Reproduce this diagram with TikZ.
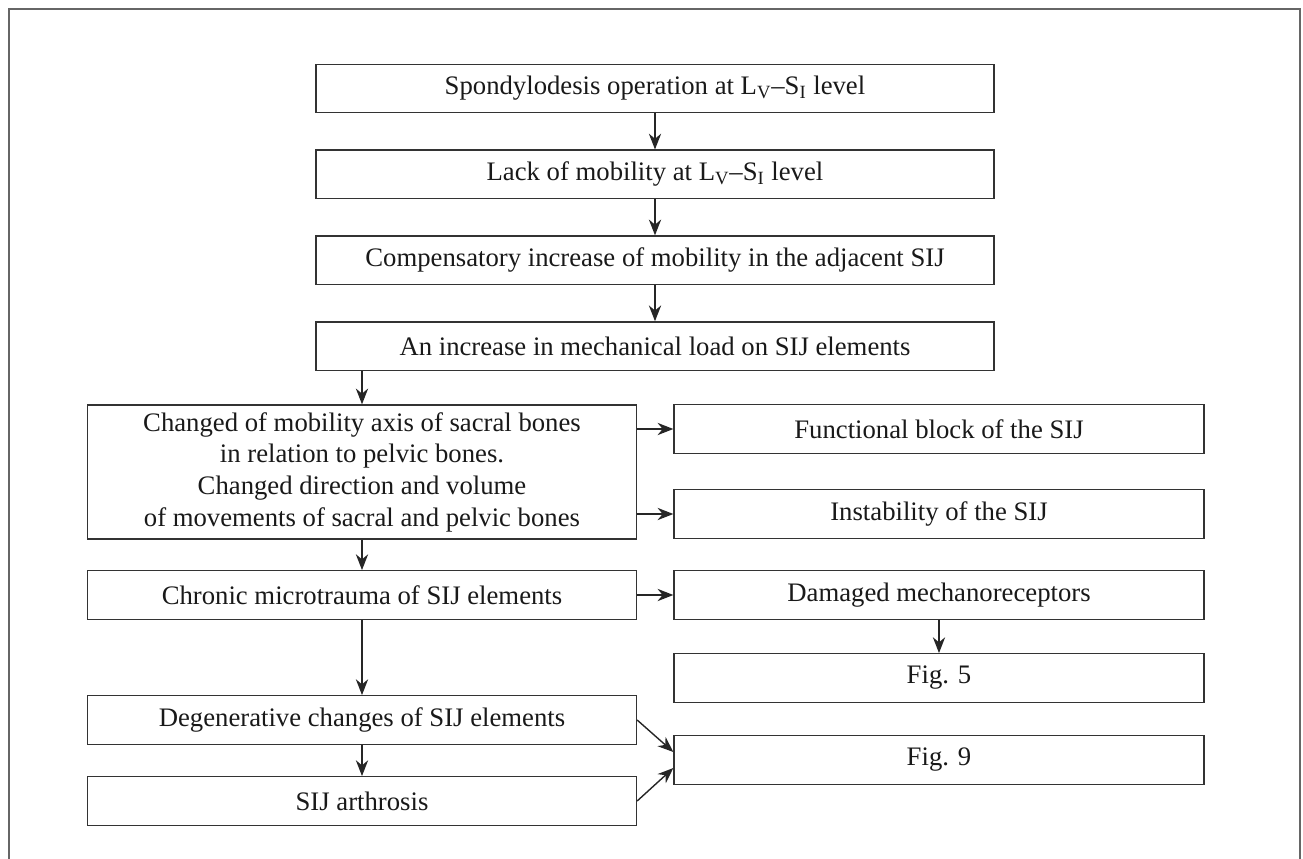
\documentclass[tikz,border=0pt]{standalone}
\usepackage{fontspec}
\setmainfont{Liberation Serif}
\usetikzlibrary{
	arrows.meta,
	positioning
}

\begin{document}
\begin{tikzpicture}[
			x=0.02cm, y=-0.02cm,
			node distance=0.72cm,
			box/.style={draw=black!80, line width=0.8pt, align=center, inner sep=2pt, text=black!90, font=\fontsize{15.2}{18}\selectfont, minimum height=0.97cm},
			topbox/.style={box, minimum width=13.56cm},
			leftbox/.style={box, minimum width=10.98cm},
			rightbox/.style={box, minimum width=10.6cm},
			arr/.style={-{Stealth[length=9pt, width=7pt]}, line width=0.8pt, black!85}
		]
			\useasboundingbox (0,0) rectangle (1303,859);
			\draw[black!60, line width=1.1pt] (9,859) -- (9,9) -- (1300,9) -- (1300,859);
			% main chain
			\node[topbox] (op) at (655,88.5) {Spondylodesis operation at L\textsubscript{V}--S\textsubscript{I} level};
			\node[topbox, below=of op] (lack) {Lack of mobility at L\textsubscript{V}--S\textsubscript{I} level};
			\node[topbox, below=of lack] (comp) {Compensatory increase of mobility in the adjacent SIJ};
			\node[topbox, below=of comp] (load) {An increase in mechanical load on SIJ elements};
			% left column
			\node[leftbox, minimum height=2.68cm] (axis) at (362,472)
			{Changed of mobility axis of sacral bones\\ in relation to pelvic bones.\\ Changed direction and volume\\ of movements of sacral and pelvic bones};
			\node[leftbox] (chron) at (362,595) {Chronic microtrauma of SIJ elements};
			\node[leftbox] (degen) at (362,720) {Degenerative changes of SIJ elements};
			\node[leftbox] (arthr) at (362,801) {SIJ arthrosis};
			% right column
			\node[rightbox] (block) at (939,429) {Functional block of the SIJ};
			\node[rightbox] (instab) at (939,514) {Instability of the SIJ};
			\node[rightbox] (mech) at (939,595) {Damaged mechanoreceptors};
			\node[rightbox] (fig5) at (939,678) {Fig. 5};
			\node[rightbox] (fig9) at (939,760) {Fig. 9};
			\draw[arr] (op) -- (lack); \draw[arr] (lack) -- (comp); \draw[arr] (comp) -- (load);
			\draw[arr] (load.south -| axis.north) -- (axis.north);
			\draw[arr] (axis.east |- block) -- (block);
			\draw[arr] (axis.east |- instab) -- (instab);
			\draw[arr] (axis) -- (chron); \draw[arr] (chron) -- (mech); \draw[arr] (mech) -- (fig5);
			\draw[arr] (chron) -- (degen); \draw[arr] (degen) -- (arthr);
			\draw[arr] (degen.east) -- ([yshift=0.16cm]fig9.west);
			\draw[arr] (arthr.east) -- ([yshift=-0.16cm]fig9.west);
		\end{tikzpicture}
\end{document}
